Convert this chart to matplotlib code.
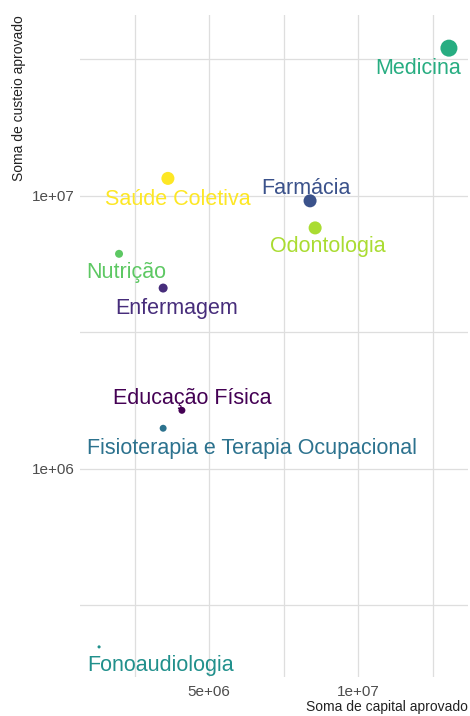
import matplotlib
matplotlib.use("Agg")
import matplotlib.pyplot as plt
from matplotlib.ticker import FixedLocator, NullFormatter
import numpy as np

plt.rcParams['font.family'] = ['Liberation Sans', 'DejaVu Sans']

cursos = ["Educação Física", "Enfermagem", "Farmácia",
          "Fisioterapia e Terapia Ocupacional", "Fonoaudiologia", "Medicina",
          "Nutrição", "Odontologia", "Saúde Coletiva"]
capital = [4.09e6, 3.46e6, 8.39e6, 3.46e6, 1.31e6, 13.05e6, 1.98e6, 8.56e6, 3.62e6]
custeio = [1.64e6, 4.6e6, 9.6e6, 1.41e6, 2.23e5, 3.48e7, 6.14e6, 7.64e6, 1.16e7]
peso = [25, 42, 88, 25, 5, 150, 33, 88, 88]

cores = ["#440154", "#472D7B", "#3B528B", "#2C728E", "#21908C",
         "#27AD81", "#5DC863", "#AADC32", "#FDE725"]

# label offsets in pixels (dx right, dy down) from the point
offsets = {
    "Medicina": (-31, 20),
    "Saúde Coletiva": (10, 21),
    "Farmácia": (-4, -12),
    "Odontologia": (13, 19),
    "Nutrição": (7, 19),
    "Enfermagem": (13, 20),
    "Educação Física": (10, -12),
    "Fisioterapia e Terapia Ocupacional": (89, 20),
    "Fonoaudiologia": (61, 19),
}

W, H = 470, 716
fig = plt.figure(figsize=(W / 100, H / 100), dpi=100)
left, right, top, bottom = 80, 468, 15, 677
ax = fig.add_axes([left / W, 1 - bottom / H, (right - left) / W, (bottom - top) / H])

ax.set_yscale('log')
ax.set_xlim(0.67e6, 13.69e6)
ax.set_ylim(10 ** 5.238, 10 ** 7.663)

ax.scatter(capital, custeio, s=peso, c=cores, zorder=3, linewidths=0)

for nome, x, y, cor in zip(cursos, capital, custeio, cores):
    dx, dy = offsets[nome]
    ax.annotate(nome, (x, y), xytext=(dx * 0.72, -dy * 0.72), textcoords='offset points',
                ha='center', va='center', fontsize=15.5, color=cor, zorder=4)

ax.xaxis.set_major_locator(FixedLocator([5e6, 1e7]))
ax.xaxis.set_minor_locator(FixedLocator([2.5e6, 7.5e6, 1.25e7]))
ax.set_xticklabels(["5e+06", "1e+07"])
ax.xaxis.set_minor_formatter(NullFormatter())
ax.yaxis.set_major_locator(FixedLocator([1e6, 1e7]))
ax.yaxis.set_minor_locator(FixedLocator([10 ** 5.5, 10 ** 6.5, 10 ** 7.5]))
ax.set_yticklabels(["1e+06", "1e+07"])
ax.yaxis.set_minor_formatter(NullFormatter())

ax.grid(True, which='both', color='#dedede', linewidth=0.9, zorder=0)
ax.set_axisbelow(True)
for s in ax.spines.values():
    s.set_visible(False)
ax.tick_params(which='both', length=0, labelsize=11, colors='#4d4d4d')
ax.tick_params(axis='x', pad=6)
ax.tick_params(axis='y', pad=4)

ax.set_xlabel("Soma de capital aprovado", fontsize=10, loc='right', labelpad=0.5, color='#222222')
ax.set_ylabel("Soma de custeio aprovado", fontsize=10, loc='top', labelpad=4, color='#222222')

fig.savefig("out.png", dpi=100)
